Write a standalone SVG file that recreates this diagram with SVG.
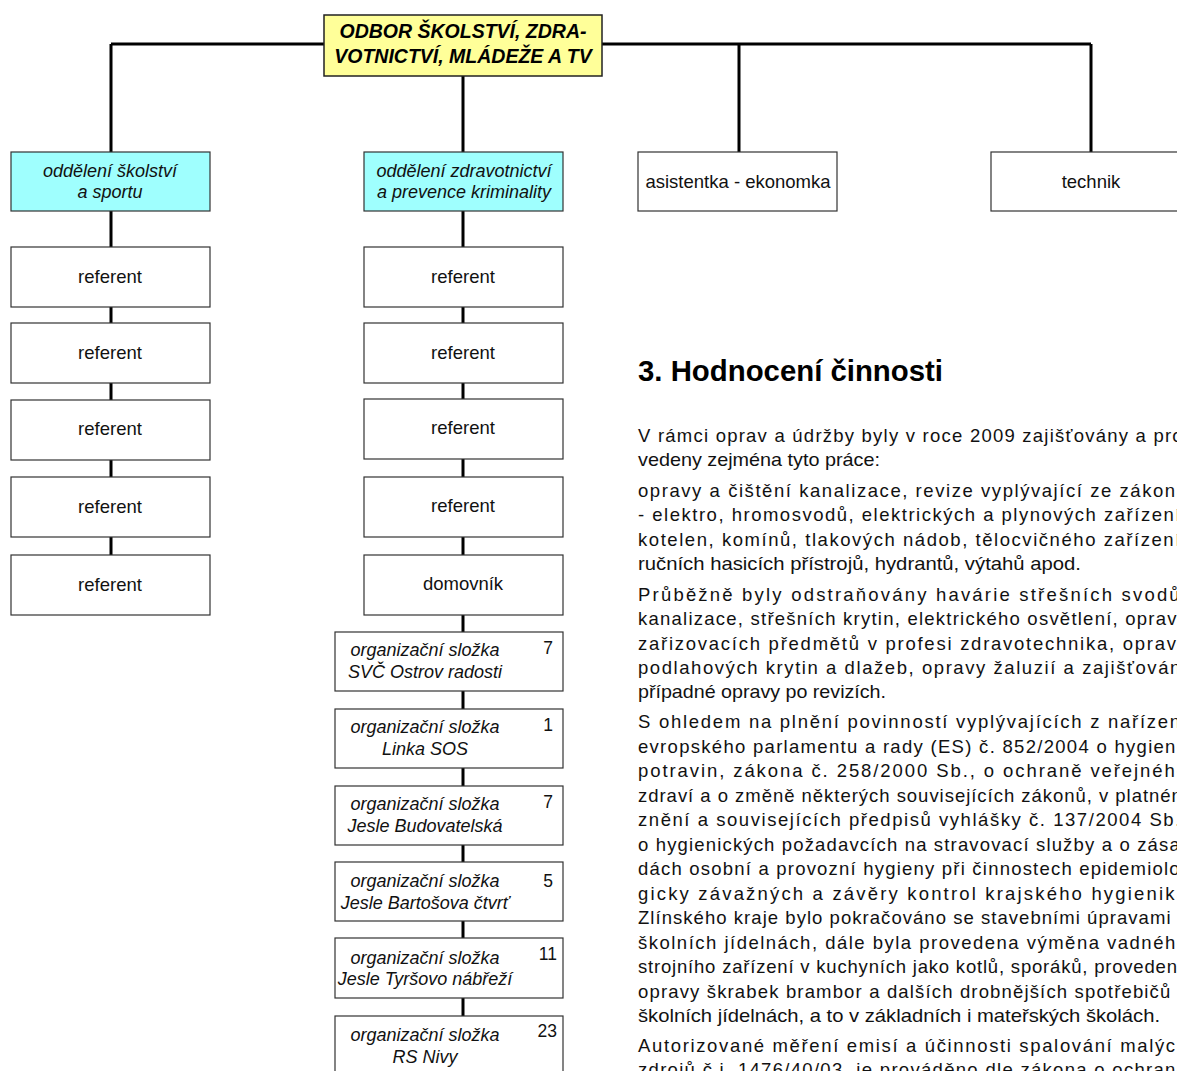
<svg xmlns="http://www.w3.org/2000/svg" width="1177" height="1071" viewBox="0 0 1177 1071">
<style>
.box{fill:#fff;stroke:#333;stroke-width:1.2}
.cyan{fill:#9ffffe;stroke:#333;stroke-width:1.2}
.yel{fill:#ffff99;stroke:#222;stroke-width:1.5}
.con{stroke:#000;stroke-width:3;fill:none}
.t{font-family:"Liberation Sans",Arial,sans-serif;font-size:18.5px;fill:#111;text-anchor:middle}
.it{font-family:"Liberation Sans",Arial,sans-serif;font-size:18px;font-style:italic;fill:#111;text-anchor:middle}
.num{font-family:"Liberation Sans",Arial,sans-serif;font-size:17.5px;fill:#111;text-anchor:end}
.hd{font-family:"Liberation Sans",Arial,sans-serif;font-size:19.5px;font-weight:bold;font-style:italic;fill:#000;text-anchor:middle}
.ttl{font-family:"Liberation Sans",Arial,sans-serif;font-size:30px;font-weight:bold;fill:#000}
.p{font-family:"Liberation Sans",Arial,sans-serif;font-size:18.5px;fill:#111}
</style>
<rect width="1177" height="1071" fill="#fff"/>
<g id="connectors">
<path class="con" d="M111 44H1091M111 44V152M463 76V152M739 44V152M1091 44V152"/>
<path class="con" d="M111 211V247M111 307V323M111 383V400M111 460V477M111 537V555"/>
<path class="con" d="M463 211V247M463 307V323M463 383V399M463 459V477M463 537V555M463 615V632M463 691V709M463 768V786M463 845V862M463 921V938M463 998V1016"/>
</g>
<g id="odbor"><rect class="yel" x="324" y="15" width="278" height="61"/><text class="hd" x="463" y="38">ODBOR ŠKOLSTVÍ, ZDRA-</text><text class="hd" x="463" y="63">VOTNICTVÍ, MLÁDEŽE A TV</text></g>
<g id="odd-skolstvi"><rect class="cyan" x="11" y="152" width="199" height="59"/><text class="it" x="110" y="177">oddělení školství</text><text class="it" x="110" y="198">a sportu</text></g>
<g id="odd-zdravotnictvi"><rect class="cyan" x="364" y="152" width="199" height="59"/><text class="it" x="464" y="177">oddělení zdravotnictví</text><text class="it" x="464" y="198">a prevence kriminality</text></g>
<g id="asistentka"><rect class="box" x="638" y="152" width="199" height="59"/><text class="t" x="738" y="188">asistentka - ekonomka</text></g>
<g id="technik"><rect class="box" x="991" y="152" width="199" height="59"/><text class="t" x="1091" y="188">technik</text></g>
<g id="l-ref1"><rect class="box" x="11" y="247" width="199" height="60"/><text class="t" x="110" y="283">referent</text></g>
<g id="l-ref2"><rect class="box" x="11" y="323" width="199" height="60"/><text class="t" x="110" y="359">referent</text></g>
<g id="l-ref3"><rect class="box" x="11" y="400" width="199" height="60"/><text class="t" x="110" y="435">referent</text></g>
<g id="l-ref4"><rect class="box" x="11" y="477" width="199" height="60"/><text class="t" x="110" y="513">referent</text></g>
<g id="l-ref5"><rect class="box" x="11" y="555" width="199" height="60"/><text class="t" x="110" y="591">referent</text></g>
<g id="m-ref1"><rect class="box" x="364" y="247" width="199" height="60"/><text class="t" x="463" y="283">referent</text></g>
<g id="m-ref2"><rect class="box" x="364" y="323" width="199" height="60"/><text class="t" x="463" y="359">referent</text></g>
<g id="m-ref3"><rect class="box" x="364" y="399" width="199" height="60"/><text class="t" x="463" y="434">referent</text></g>
<g id="m-ref4"><rect class="box" x="364" y="477" width="199" height="60"/><text class="t" x="463" y="512">referent</text></g>
<g id="domovnik"><rect class="box" x="364" y="555" width="199" height="60"/><text class="t" x="463" y="590">domovník</text></g>
<g id="os-svc"><rect class="box" x="335" y="632" width="228" height="59"/><text class="it" x="425" y="656">organizační složka</text><text class="it" x="425" y="678">SVČ Ostrov radosti</text><text class="num" x="553" y="654">7</text></g>
<g id="os-linka"><rect class="box" x="335" y="709" width="228" height="59"/><text class="it" x="425" y="733">organizační složka</text><text class="it" x="425" y="755">Linka SOS</text><text class="num" x="553" y="731">1</text></g>
<g id="os-budovatelska"><rect class="box" x="335" y="786" width="228" height="59"/><text class="it" x="425" y="810">organizační složka</text><text class="it" x="425" y="832">Jesle Budovatelská</text><text class="num" x="553" y="808">7</text></g>
<g id="os-bartosova"><rect class="box" x="335" y="862" width="228" height="59"/><text class="it" x="425" y="887">organizační složka</text><text class="it" x="425" y="909">Jesle Bartošova čtvrť</text><text class="num" x="553" y="887">5</text></g>
<g id="os-tyrsovo"><rect class="box" x="335" y="938" width="228" height="60"/><text class="it" x="425" y="964">organizační složka</text><text class="it" x="425" y="985">Jesle Tyršovo nábřeží</text><text class="num" x="557" y="960">11</text></g>
<g id="os-nivy"><rect class="box" x="335" y="1016" width="228" height="60"/><text class="it" x="425" y="1041">organizační složka</text><text class="it" x="425" y="1063">RS Nivy</text><text class="num" x="557" y="1037">23</text></g>
<text class="ttl" x="638" y="381" textLength="305" lengthAdjust="spacingAndGlyphs">3. Hodnocení činnosti</text>
<g class="p">
<text x="638" y="442" textLength="552" lengthAdjust="spacing">V rámci oprav a údržby byly v roce 2009 zajišťovány a pro-</text>
<text x="638" y="466" textLength="242" lengthAdjust="spacingAndGlyphs">vedeny zejména tyto práce:</text>
<text x="638" y="497" textLength="549" lengthAdjust="spacing">opravy a čištění kanalizace, revize vyplývající ze zákona</text>
<text x="638" y="521" textLength="549" lengthAdjust="spacing">- elektro, hromosvodů, elektrických a plynových zařízení,</text>
<text x="638" y="546" textLength="549" lengthAdjust="spacing">kotelen, komínů, tlakových nádob, tělocvičného zařízení,</text>
<text x="638" y="570" textLength="443" lengthAdjust="spacingAndGlyphs">ručních hasicích přístrojů, hydrantů, výtahů apod.</text>
<text x="638" y="601" textLength="549" lengthAdjust="spacing">Průběžně byly odstraňovány havárie střešních svodů,</text>
<text x="638" y="625" textLength="549" lengthAdjust="spacing">kanalizace, střešních krytin, elektrického osvětlení, opravy</text>
<text x="638" y="650" textLength="549" lengthAdjust="spacing">zařizovacích předmětů v profesi zdravotechnika, opravy</text>
<text x="638" y="674" textLength="549" lengthAdjust="spacing">podlahových krytin a dlažeb, opravy žaluzií a zajišťování</text>
<text x="638" y="698" textLength="248" lengthAdjust="spacingAndGlyphs">případné opravy po revizích.</text>
<text x="638" y="728" textLength="549" lengthAdjust="spacing">S ohledem na plnění povinností vyplývajících z nařízení</text>
<text x="638" y="753" textLength="549" lengthAdjust="spacing">evropského parlamentu a rady (ES) č. 852/2004 o hygieně</text>
<text x="638" y="777" textLength="549" lengthAdjust="spacing">potravin, zákona č. 258/2000 Sb., o ochraně veřejného</text>
<text x="638" y="802" textLength="549" lengthAdjust="spacing">zdraví a o změně některých souvisejících zákonů, v platném</text>
<text x="638" y="826" textLength="549" lengthAdjust="spacing">znění a souvisejících předpisů vyhlášky č. 137/2004 Sb.,</text>
<text x="638" y="851" textLength="549" lengthAdjust="spacing">o hygienických požadavcích na stravovací služby a o zása-</text>
<text x="638" y="875" textLength="549" lengthAdjust="spacing">dách osobní a provozní hygieny při činnostech epidemiolo-</text>
<text x="638" y="900" textLength="549" lengthAdjust="spacing">gicky závažných a závěry kontrol krajského hygienika</text>
<text x="638" y="924" textLength="549" lengthAdjust="spacing">Zlínského kraje bylo pokračováno se stavebními úpravami v</text>
<text x="638" y="949" textLength="549" lengthAdjust="spacing">školních jídelnách, dále byla provedena výměna vadného</text>
<text x="638" y="973" textLength="549" lengthAdjust="spacing">strojního zařízení v kuchyních jako kotlů, sporáků, provedeny</text>
<text x="638" y="998" textLength="549" lengthAdjust="spacing">opravy škrabek brambor a dalších drobnějších spotřebičů v</text>
<text x="638" y="1022" textLength="522" lengthAdjust="spacingAndGlyphs">školních jídelnách, a to v základních i mateřských školách.</text>
<text x="638" y="1052" textLength="549" lengthAdjust="spacing">Autorizované měření emisí a účinnosti spalování malých</text>
<text x="638" y="1076" textLength="549" lengthAdjust="spacing">zdrojů č.j. 1476/40/03, je prováděno dle zákona o ochraně</text>
</g>
</svg>
